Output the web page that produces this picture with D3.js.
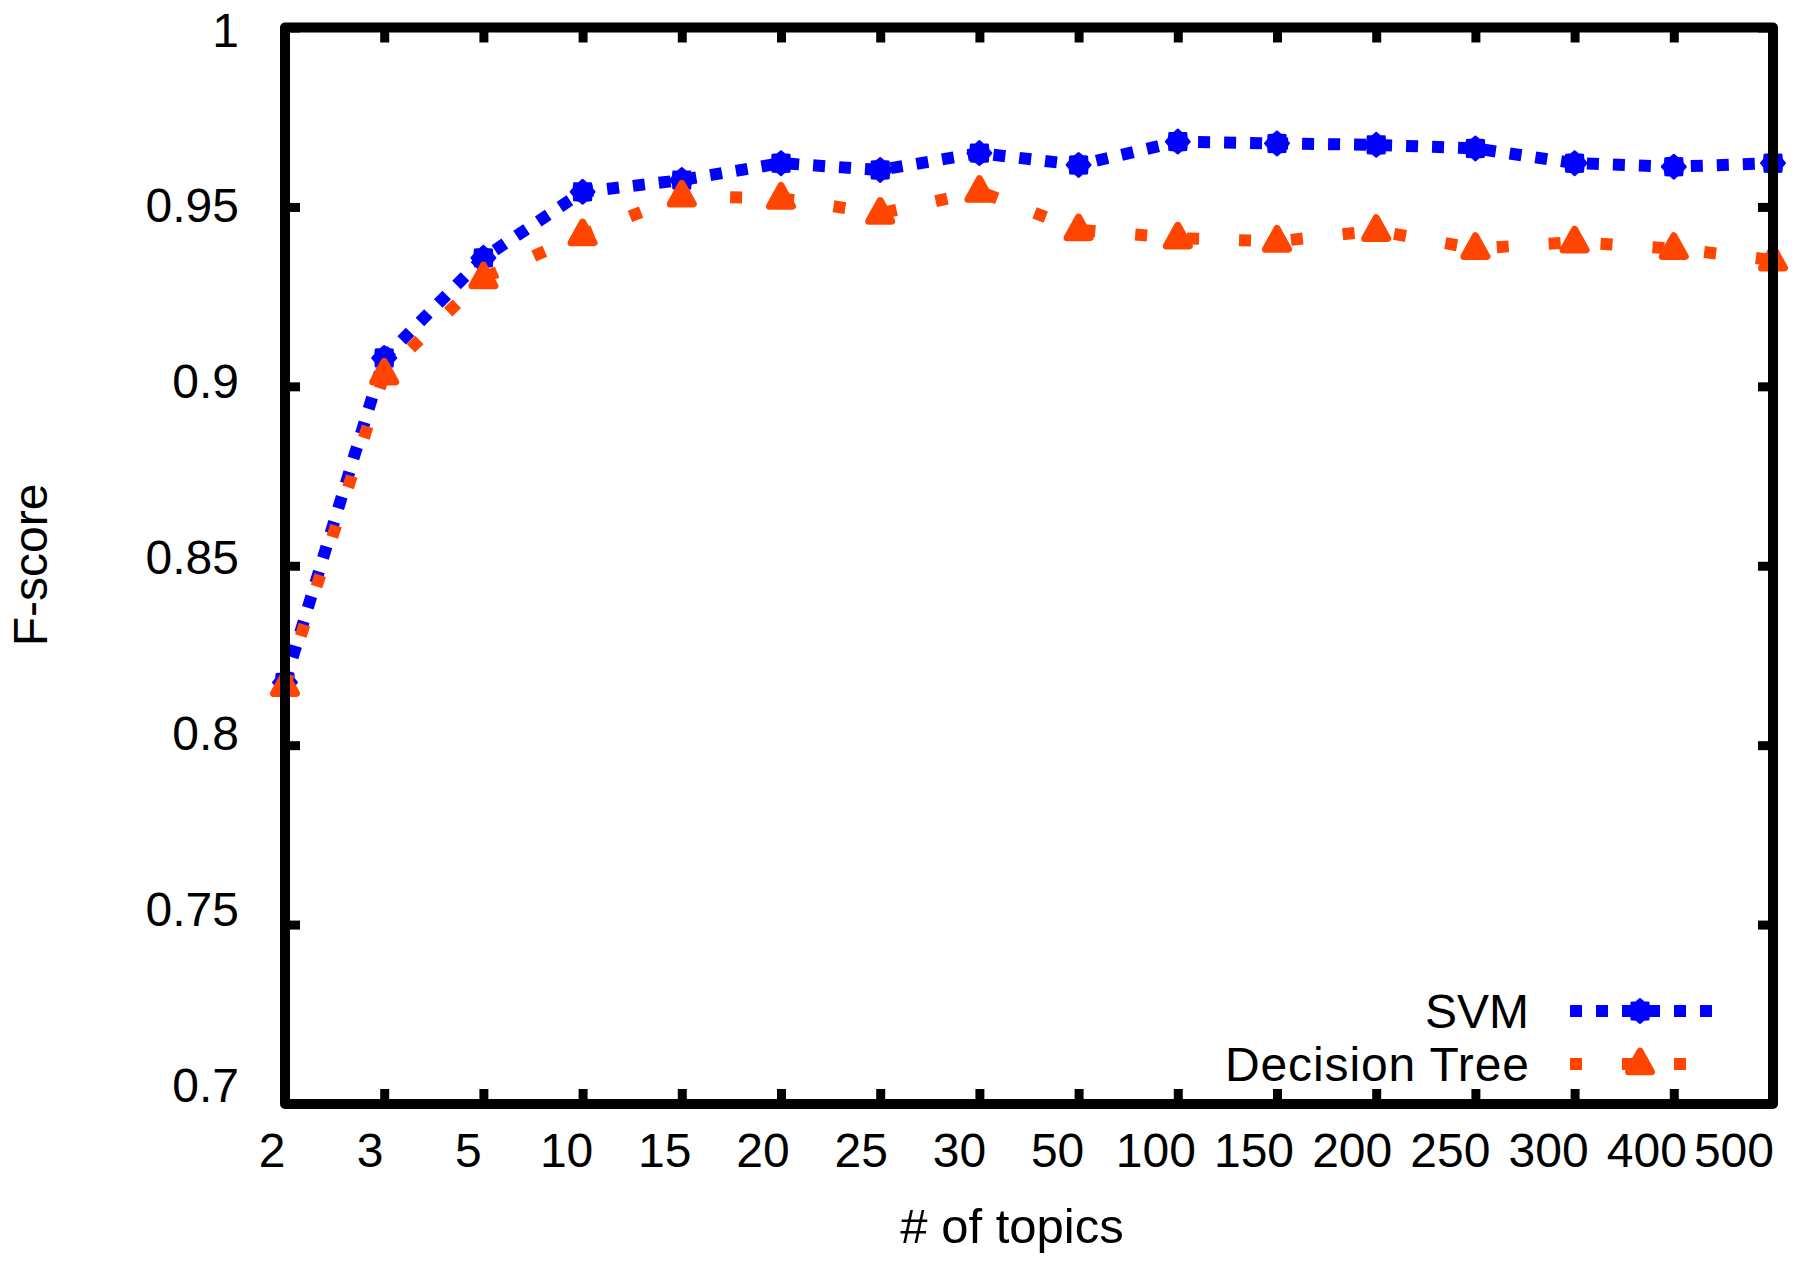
<!DOCTYPE html>
<html>
<head>
<meta charset="utf-8">
<script src="https://cdn.jsdelivr.net/npm/d3@7"></script>
<style>
  html, body { margin: 0; padding: 0; background: #fff; }
  svg { display: block; }
  text { font-family: "Liberation Sans", Arial, Helvetica, sans-serif; fill: #000; }
</style>
</head>
<body>
<svg id="chart" width="1800" height="1264"></svg>
<script>
// ---- data ----
const categories = ["2","3","5","10","15","20","25","30","50","100","150","200","250","300","400","500"];
const svmValues = [0.8175, 0.9079, 0.9358, 0.9542, 0.9575, 0.9622, 0.9603, 0.9650, 0.9617, 0.9682, 0.9677, 0.9673, 0.9663, 0.9622, 0.9612, 0.9622];
const dtValues  = [0.8166, 0.9034, 0.9302, 0.9422, 0.9530, 0.9524, 0.9482, 0.9543, 0.9436, 0.9413, 0.9404, 0.9434, 0.9384, 0.9402, 0.9384, 0.9352];
const yTicks = [0.7, 0.75, 0.8, 0.85, 0.9, 0.95, 1];
const yTickLabels = ["0.7", "0.75", "0.8", "0.85", "0.9", "0.95", "1"];
const seriesNames = ["SVM", "Decision Tree"];
const xTitle = "# of topics";
const yTitle = "F-score";

// ---- layout ----
const L = 285, R = 1773, T = 27.5, B = 1104;
const svg = d3.select("#chart");

const x = d3.scalePoint().domain(categories).range([L, R]);
const y = d3.scaleLinear().domain([0.7, 1]).range([B, T]);
// label placement (labels in the original sit on a slightly tighter spacing)
const yLab = d3.scaleLinear().domain([0.7, 1]).range([1084, 29]);

const BLUE = "#0000ff", ORANGE = "#ff4500";

// ---- ticks (inward, mirrored) ----
function styleTicks(g) {
  g.select(".domain").remove();
  g.selectAll(".tick line").attr("stroke", "#000").attr("stroke-width", 9);
  g.selectAll(".tick text").remove();
}
svg.append("g").attr("transform", `translate(0,${B})`)
  .call(d3.axisBottom(x).tickSize(-15).tickFormat("")).call(styleTicks);
svg.append("g").attr("transform", `translate(0,${T})`)
  .call(d3.axisTop(x).tickSize(-15).tickFormat("")).call(styleTicks);
svg.append("g").attr("transform", `translate(${L},0)`)
  .call(d3.axisLeft(y).tickValues(yTicks).tickSize(-15).tickFormat("")).call(styleTicks);
svg.append("g").attr("transform", `translate(${R},0)`)
  .call(d3.axisRight(y).tickValues(yTicks).tickSize(-15).tickFormat("")).call(styleTicks);

// ---- tick labels ----
svg.append("g").selectAll("text").data(categories).join("text")
  .attr("x", (d, i) => i === categories.length - 1 ? R + 1 : x(d) - 13 - i)
  .attr("y", 1167)
  .attr("text-anchor", (d, i) => i === categories.length - 1 ? "end" : "middle")
  .attr("font-size", 48)
  .text(d => d);

svg.append("g").selectAll("text").data(yTicks).join("text")
  .attr("x", 239)
  .attr("y", d => yLab(d) + 17.5)
  .attr("text-anchor", "end")
  .attr("font-size", 48)
  .text((d, i) => yTickLabels[i]);

// ---- axis titles ----
svg.append("text").attr("x", 1012).attr("y", 1243)
  .attr("text-anchor", "middle").attr("font-size", 49).text(xTitle);
svg.append("text").attr("transform", "translate(47,565) rotate(-90)")
  .attr("text-anchor", "middle").attr("font-size", 48).text(yTitle);

// ---- markers ----
function starPath(r) {
  const pts = [];
  for (let k = 0; k < 16; k++) {
    const a = -Math.PI / 2 + k * Math.PI / 8;
    const rr = (k % 2 === 0) ? r : r * 0.80;
    pts.push([rr * Math.cos(a), rr * Math.sin(a)]);
  }
  return "M" + pts.map(p => p[0].toFixed(2) + "," + p[1].toFixed(2)).join("L") + "Z";
}
function triPath(s) {
  const h = s * 0.9;
  return `M0,${-h * 0.62}L${s / 2},${h * 0.38}L${-s / 2},${h * 0.38}Z`;
}

const line = d3.line().x((d, i) => x(categories[i])).y(d => y(d));

// SVM
svg.append("path").datum(svmValues)
  .attr("d", line).attr("fill", "none").attr("stroke", BLUE)
  .attr("stroke-width", 12).attr("stroke-dasharray", "12,14");
svg.append("g").selectAll("path").data(svmValues).join("path")
  .attr("transform", (d, i) => `translate(${x(categories[i])},${y(d)})`)
  .attr("d", starPath(12)).attr("fill", BLUE).attr("stroke", BLUE)
  .attr("stroke-width", 2).attr("stroke-linejoin", "round");

// Decision Tree
svg.append("path").datum(dtValues)
  .attr("d", line).attr("fill", "none").attr("stroke", ORANGE)
  .attr("stroke-width", 12).attr("stroke-dasharray", "12,40");
svg.append("g").selectAll("path").data(dtValues).join("path")
  .attr("transform", (d, i) => `translate(${x(categories[i])},${y(d)})`)
  .attr("d", triPath(23)).attr("fill", ORANGE).attr("stroke", ORANGE)
  .attr("stroke-width", 7).attr("stroke-linejoin", "round");

// ---- legend ----
const legend = [
  { name: seriesNames[0], color: BLUE, dash: "12,14", marker: starPath(12), sw: 2, ty: 1028, ly: 1011, len: null },
  { name: seriesNames[1], color: ORANGE, dash: "12,40", marker: triPath(23), sw: 7, ty: 1081, ly: 1064, len: 304 }
];
const lg = svg.append("g");
legend.forEach(e => {
  const t = lg.append("text").attr("x", 1529).attr("y", e.ty).attr("text-anchor", "end")
    .attr("font-size", 48).text(e.name);
  if (e.len) t.attr("textLength", e.len).attr("lengthAdjust", "spacing");
  lg.append("line").attr("x1", 1570).attr("x2", 1713).attr("y1", e.ly).attr("y2", e.ly)
    .attr("stroke", e.color).attr("stroke-width", 12).attr("stroke-dasharray", e.dash);
  lg.append("path").attr("transform", `translate(1640,${e.ly})`).attr("d", e.marker)
    .attr("fill", e.color).attr("stroke", e.color).attr("stroke-width", e.sw)
    .attr("stroke-linejoin", "round");
});

// ---- frame (drawn on top) ----
svg.append("rect").attr("x", L).attr("y", T).attr("width", R - L).attr("height", B - T)
  .attr("fill", "none").attr("stroke", "#000").attr("stroke-width", 10)
  .attr("stroke-linejoin", "round");
</script>
</body>
</html>
